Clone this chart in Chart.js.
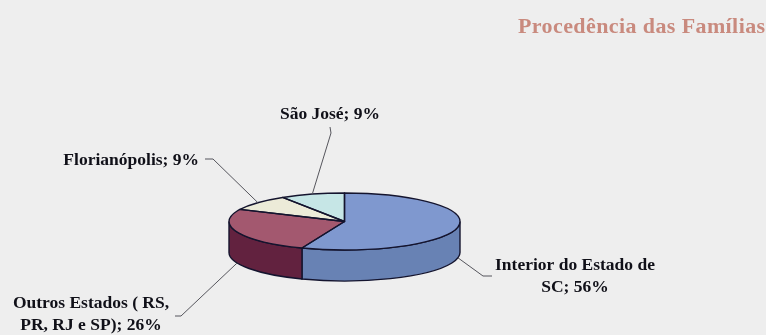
<!DOCTYPE html>
<html>
<head>
<meta charset="utf-8">
<script src="https://cdn.jsdelivr.net/npm/chart.js@4"></script>
<style>
  html, body { margin: 0; padding: 0; background: #eeeeee; }
  canvas { display: block; }
</style>
</head>
<body>
<canvas id="familiasChart" width="766" height="335"></canvas>
<script>
const chartTitle = 'Procedência das Famílias';
const categories = ['Interior do Estado de SC', 'Outros Estados ( RS, PR, RJ e SP)', 'Florianópolis', 'São José'];
const shares = [56, 26, 9, 9];
const topColors = ['#7f98cf', '#a3586f', '#ecebd8', '#c6e6e6'];
const wallColors = ['#6882b4', '#62223f', '#b8b8a0', '#8fb0b0'];
// where each label block sits: x, first baseline, alignment, leader elbow (x, y, then short tail)
const labelSpots = [
  { x: 575, y: 270, align: 'center', elbow: [[483, 276], [492, 276]], onWall: true },
  { x: 91, y: 308, align: 'center', elbow: [[181, 316], [175, 316]], onWall: true },
  { x: 199, y: 165, align: 'right', elbow: [[213, 159], [205, 159]], onWall: false },
  { x: 330, y: 119, align: 'center', elbow: [[331, 133], [330, 127]], onWall: false }
];

const inkColor = '#101018';
const leaderColor = '#55555c';
const outlineColor = '#14142e';
const pieCenterY = 221.5;
const tilt = 28.5 / 115.5;
const wallDepth = 31;

function wrapText(ctx, text, maxWidth) {
  const lines = [];
  let line = '';
  text.split(' ').forEach(word => {
    const next = line ? line + ' ' + word : word;
    if (line && ctx.measureText(next).width > maxWidth) {
      lines.push(line);
      line = word;
    } else {
      line = next;
    }
  });
  lines.push(line);
  return lines;
}

// the arcs come out round, so they get squashed here and the rim is added by hand
const tiltedPie = {
  id: 'tiltedPie',
  beforeDatasetsDraw(chart) {
    const ctx = chart.ctx;
    const arcs = chart.getDatasetMeta(0).data;
    arcs.forEach((arc, i) => {
      const p = arc.getProps(['x', 'startAngle', 'endAngle', 'outerRadius']);
      // only the front half of the rim is visible
      const from = Math.max(p.startAngle, 0);
      const to = Math.min(p.endAngle, Math.PI);
      if (to <= from) return;
      const r = p.outerRadius;
      ctx.save();
      ctx.beginPath();
      ctx.ellipse(p.x, pieCenterY, r, r * tilt, 0, from, to);
      ctx.lineTo(p.x + r * Math.cos(to), pieCenterY + r * tilt * Math.sin(to) + wallDepth);
      ctx.ellipse(p.x, pieCenterY + wallDepth, r, r * tilt, 0, to, from, true);
      ctx.closePath();
      ctx.fillStyle = wallColors[i];
      ctx.fill();
      ctx.strokeStyle = outlineColor;
      ctx.lineWidth = 1.4;
      ctx.stroke();
      ctx.restore();
    });
    const first = arcs[0];
    ctx.save();
    ctx.translate(0, pieCenterY);
    ctx.scale(1, tilt);
    ctx.translate(0, -first.y);
  },
  afterDatasetsDraw(chart) {
    const ctx = chart.ctx;
    ctx.restore();
    const arcs = chart.getDatasetMeta(0).data;

    // slice outlines, stroked without the squash so the pen stays even
    ctx.save();
    ctx.strokeStyle = outlineColor;
    ctx.lineWidth = 1.4;
    ctx.lineJoin = 'round';
    arcs.forEach(arc => {
      const p = arc.getProps(['x', 'startAngle', 'endAngle', 'outerRadius']);
      const r = p.outerRadius;
      ctx.beginPath();
      ctx.moveTo(p.x, pieCenterY);
      ctx.ellipse(p.x, pieCenterY, r, r * tilt, 0, p.startAngle, p.endAngle);
      ctx.closePath();
      ctx.stroke();
    });
    ctx.restore();

    // leader lines start at the middle of each slice
    ctx.save();
    ctx.strokeStyle = leaderColor;
    ctx.lineWidth = 1;
    arcs.forEach((arc, i) => {
      const p = arc.getProps(['x', 'startAngle', 'endAngle', 'outerRadius']);
      const mid = (p.startAngle + p.endAngle) / 2;
      const spot = labelSpots[i];
      ctx.beginPath();
      ctx.moveTo(p.x + p.outerRadius * Math.cos(mid),
        pieCenterY + p.outerRadius * tilt * Math.sin(mid) + (spot.onWall ? wallDepth : 0));
      spot.elbow.forEach(pt => ctx.lineTo(pt[0], pt[1]));
      ctx.stroke();
    });
    ctx.restore();

    // slice labels
    ctx.save();
    ctx.font = 'bold 17.5px "Liberation Serif"';
    ctx.fillStyle = inkColor;
    ctx.textBaseline = 'alphabetic';
    categories.forEach((name, i) => {
      const spot = labelSpots[i];
      ctx.textAlign = spot.align;
      wrapText(ctx, name + '; ' + shares[i] + '%', 170).forEach((line, n) => {
        ctx.fillText(line, spot.x, spot.y + n * 22);
      });
    });
    ctx.restore();

    // heading, top right
    ctx.save();
    ctx.font = 'bold 22px "Liberation Serif"';
    ctx.letterSpacing = '0.4px';
    ctx.fillStyle = '#c98a7e';
    ctx.textAlign = 'left';
    ctx.fillText(chartTitle, 518, 33);
    ctx.restore();
  }
};

new Chart(document.getElementById('familiasChart'), {
  type: 'pie',
  plugins: [tiltedPie],
  data: {
    labels: categories,
    datasets: [{
      data: shares,
      backgroundColor: topColors,
      borderWidth: 0
    }]
  },
  options: {
    responsive: false,
    animation: false,
    rotation: 0,
    layout: { padding: { left: 229, right: 306, top: 0, bottom: 0 } },
    plugins: {
      legend: { display: false },
      title: { display: false },
      tooltip: { enabled: false }
    }
  }
});
</script>
</body>
</html>
